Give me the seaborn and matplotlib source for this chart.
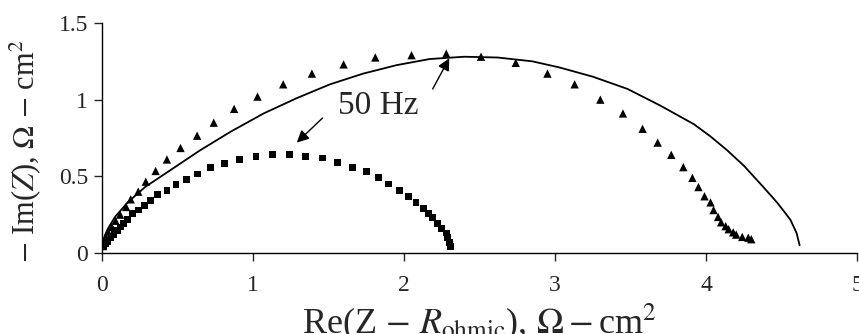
import numpy as np
import pandas as pd
import matplotlib
matplotlib.use("Agg")
import matplotlib.pyplot as plt
import seaborn as sns

# Triangle series (measured, larger arc)
tri_re = [0.005, 0.01, 0.026, 0.04, 0.066, 0.09, 0.12, 0.16, 0.19, 0.24, 0.29, 0.355,
          0.43, 0.52, 0.63, 0.74, 0.875, 1.03, 1.20, 1.39, 1.60, 1.81, 2.05, 2.28,
          2.51, 2.74, 2.95, 3.13, 3.30, 3.45, 3.58, 3.68, 3.77, 3.85, 3.91, 3.95,
          3.99, 4.03, 4.05, 4.08, 4.10, 4.13, 4.15, 4.18, 4.20, 4.24, 4.28, 4.30]
tri_im = [0.045, 0.07, 0.105, 0.14, 0.17, 0.21, 0.25, 0.30, 0.35, 0.40, 0.465, 0.535,
          0.61, 0.685, 0.765, 0.85, 0.94, 1.02, 1.10, 1.17, 1.23, 1.275, 1.29, 1.30,
          1.28, 1.24, 1.17, 1.10, 1.00, 0.91, 0.81, 0.72, 0.64, 0.56, 0.49, 0.43,
          0.37, 0.33, 0.28, 0.235, 0.20, 0.175, 0.155, 0.135, 0.12, 0.105, 0.10, 0.09]

# Square series (measured, smaller arc)
sq_re = [0.01, 0.025, 0.04, 0.06, 0.08, 0.10, 0.125, 0.145, 0.17, 0.20, 0.24, 0.28,
         0.32, 0.37, 0.43, 0.49, 0.56, 0.63, 0.72, 0.81, 0.91, 1.02, 1.13, 1.24,
         1.35, 1.46, 1.56, 1.66, 1.75, 1.83, 1.90, 1.97, 2.03, 2.08, 2.13, 2.16,
         2.19, 2.22, 2.25, 2.28, 2.29, 2.30, 2.31]
sq_im = [0.04, 0.06, 0.075, 0.10, 0.12, 0.145, 0.17, 0.195, 0.22, 0.255, 0.28, 0.31,
         0.345, 0.38, 0.41, 0.445, 0.48, 0.515, 0.555, 0.585, 0.61, 0.63, 0.64, 0.645,
         0.63, 0.62, 0.59, 0.56, 0.53, 0.49, 0.45, 0.41, 0.37, 0.33, 0.29, 0.26,
         0.23, 0.19, 0.16, 0.13, 0.10, 0.07, 0.04]

# Model curve (solid line)
fit_re = [0.0, 0.007, 0.04, 0.086, 0.17, 0.285, 0.46, 0.65, 0.85, 1.07, 1.29, 1.51,
          1.73, 1.95, 2.17, 2.40, 2.62, 2.85, 3.03, 3.25, 3.48, 3.70, 3.81,
          3.92, 4.03, 4.14, 4.25, 4.38, 4.47, 4.51, 4.56, 4.60, 4.62]
fit_im = [0.05, 0.085, 0.16, 0.235, 0.33, 0.43, 0.545, 0.67, 0.79, 0.91, 1.01, 1.10,
          1.17, 1.225, 1.265, 1.28, 1.275, 1.25, 1.21, 1.15, 1.07, 0.96, 0.90,
          0.84, 0.76, 0.67, 0.57, 0.43, 0.33, 0.28, 0.215, 0.13, 0.05]

x_ticks = [0, 1, 2, 3, 4, 5]
y_ticks = [0, 0.5, 1, 1.5]
y_tick_labels = ["0", "0.5", "1", "1.5"]
annot_text = "50 Hz"

sns.set_style("ticks")
plt.rcParams["font.family"] = ["Liberation Serif", "DejaVu Serif"]
plt.rcParams["mathtext.fontset"] = "stix"

fig = plt.figure(figsize=(8.59, 3.34), dpi=100)
ax = fig.add_axes([102 / 859, 1 - 253 / 334, 755 / 859, 230 / 334])

tri_df = pd.DataFrame({"re": tri_re, "im": tri_im})
sq_df = pd.DataFrame({"re": sq_re, "im": sq_im})
fit_df = pd.DataFrame({"re": fit_re, "im": fit_im})

sns.lineplot(data=fit_df, x="re", y="im", sort=False, color="black", lw=1.3, ax=ax)
sns.scatterplot(data=tri_df, x="re", y="im", marker="^", s=36, color="black",
                edgecolor="none", ax=ax)
sns.scatterplot(data=sq_df, x="re", y="im", marker="s", s=24, color="black",
                edgecolor="none", ax=ax)

ax.set_xlim(0, 5)
ax.set_ylim(0, 1.5)
ax.set_xticks(x_ticks)
ax.set_xticklabels([str(t) for t in x_ticks])
ax.set_yticks(y_ticks)
ax.set_yticklabels(y_tick_labels)
ax.tick_params(axis="x", direction="out", length=6, width=1, pad=10, labelsize=17)
ax.tick_params(axis="y", direction="out", length=6, width=1, pad=4, labelsize=17)
sns.despine(ax=ax)
for sp in ["left", "bottom"]:
    ax.spines[sp].set_linewidth(1.0)
    ax.spines[sp].set_color("black")

ax.set_xlabel(r"Re(Z $-$ $R_{\rm ohmic}$), $\Omega-$cm$^2$", fontsize=26, labelpad=4)
ax.set_ylabel(r"$-$ Im($Z$), $\Omega$ $-$ cm$^2$", fontsize=22)
ax.yaxis.set_label_coords(-0.078, 0.443)

ax.text(1.83, 0.96, annot_text, fontsize=24, ha="center", va="center")
arrow = dict(arrowstyle="-|>", color="black", lw=1.0, mutation_scale=18, shrinkA=0, shrinkB=0)
ax.annotate("", xy=(2.30, 1.27), xytext=(2.19, 1.07), arrowprops=arrow)
ax.annotate("", xy=(1.29, 0.72), xytext=(1.46, 0.88), arrowprops=arrow)

fig.savefig("out.png", dpi=100)
